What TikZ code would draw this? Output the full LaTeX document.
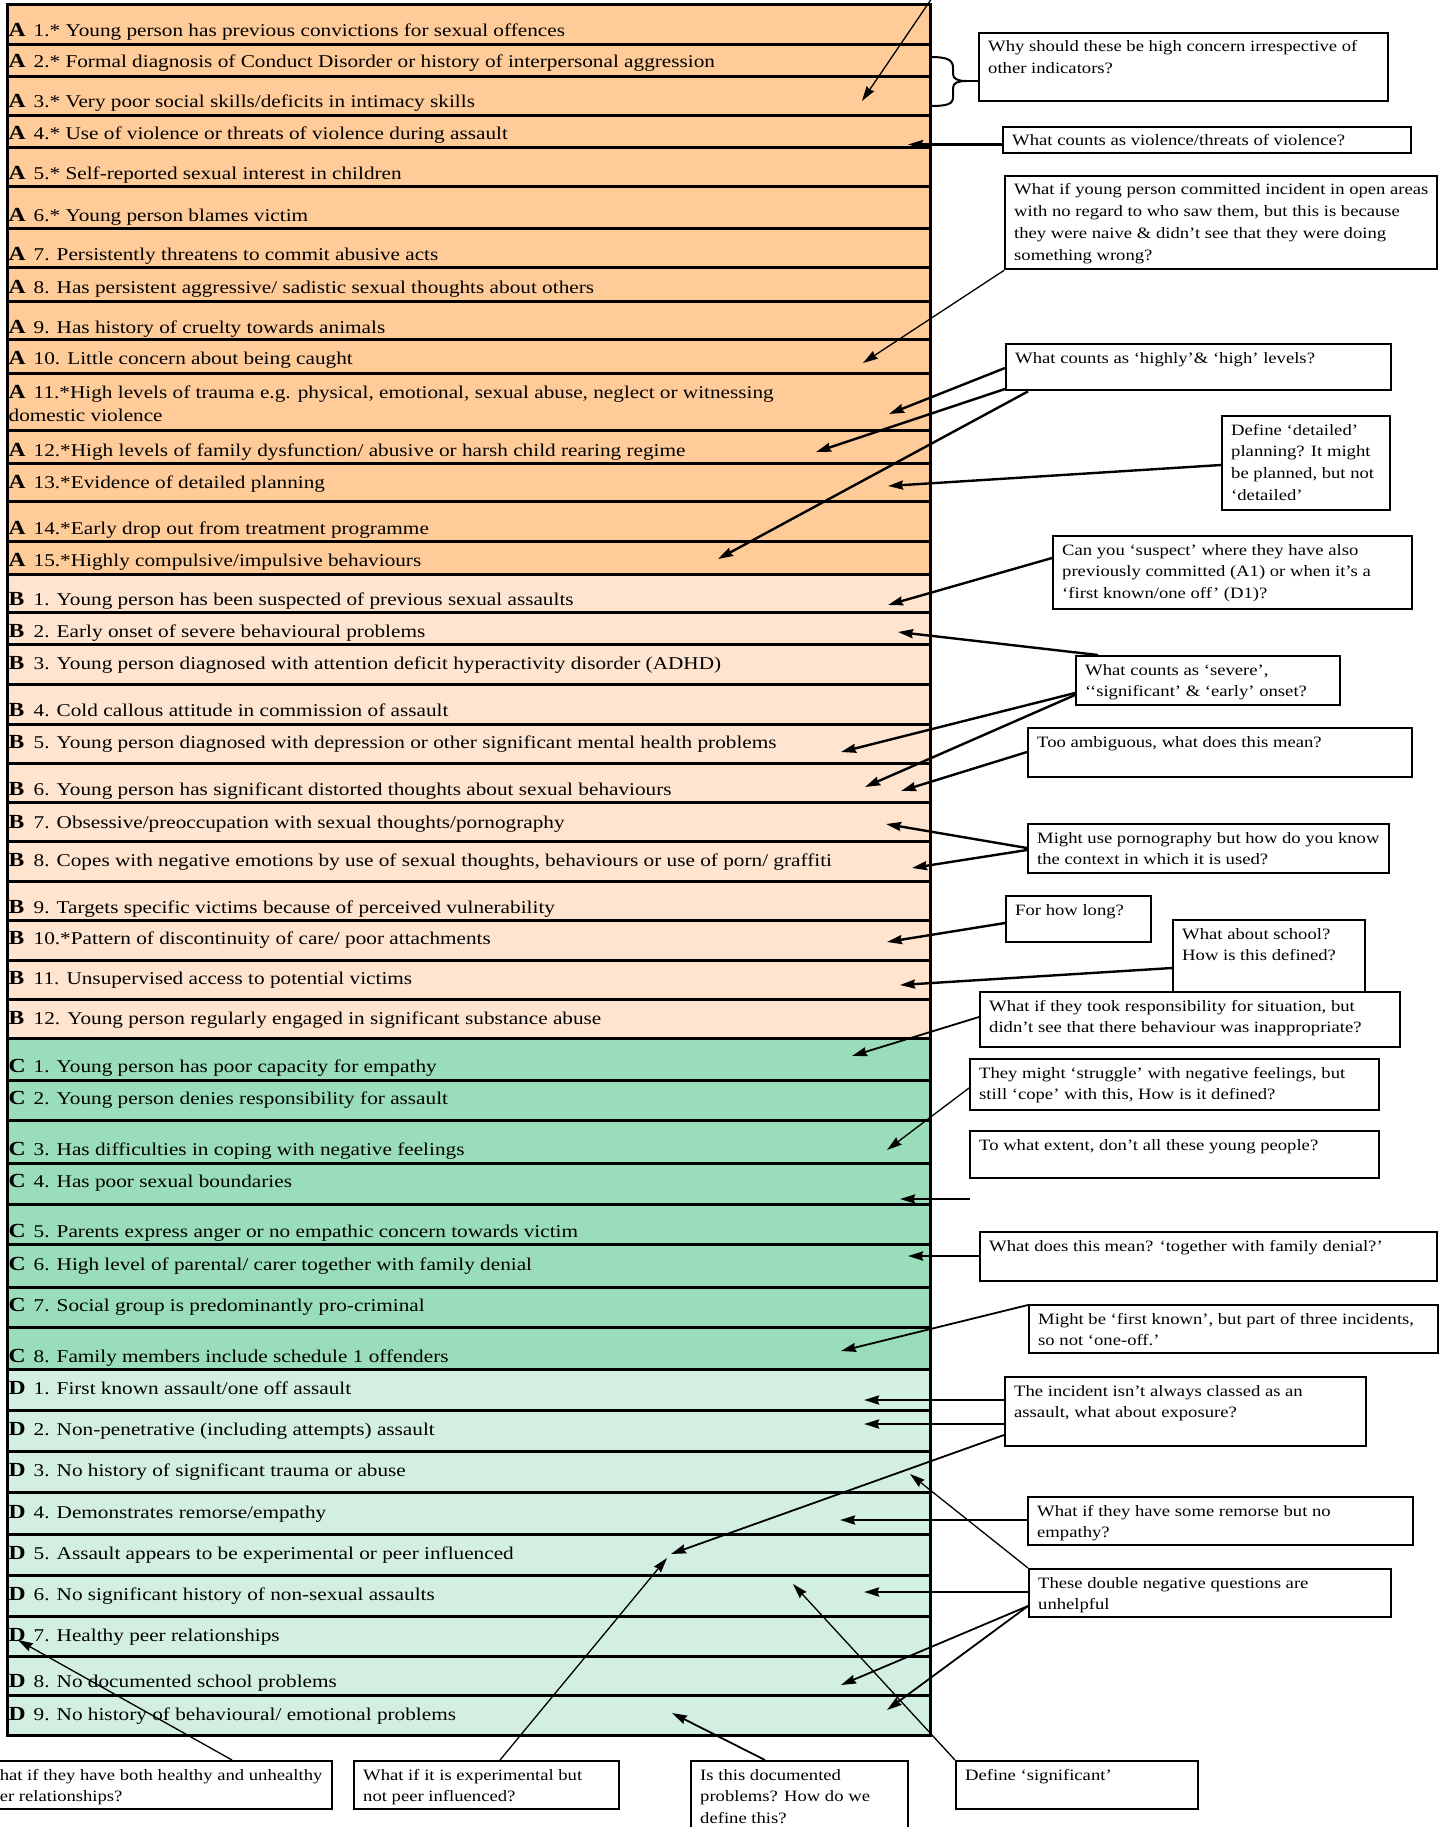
\documentclass[tikz,border=0pt]{standalone}
\usepackage{fontspec}
\setmainfont{Liberation Serif}[FakeStretch=1.18]
\usetikzlibrary{arrows.meta}

\definecolor{rowA}{HTML}{FFCC99}
\definecolor{rowB}{HTML}{FFE5CF}
\definecolor{rowC}{HTML}{99DDBA}
\definecolor{rowD}{HTML}{D3EFE1}

\newcommand\rowfont{\fontsize{18}{23.5}\selectfont}
\newcommand\cmtfont{\fontsize{15.8}{21.7}\selectfont}
\newcommand\rl[1]{\makebox[25pt][l]{\fontsize{20}{20}\selectfont\bfseries #1}}

\begin{document}
\begin{tikzpicture}[x=1pt,y=-1pt,
  rowtxt/.style={anchor=base west, inner sep=0pt, font=\rowfont},
  cframe/.style={draw, line width=2.4pt, fill=white, anchor=north west, inner sep=0pt},
  ctxt/.style={anchor=base west, inner sep=0pt, font=\cmtfont},
  sepline/.style={line width=3pt},
  arr/.style={line width=2.4pt, -{Stealth[length=15pt,width=9pt,inset=1.5pt]}},
  arrmed/.style={line width=1.8pt, -{Stealth[length=15pt,width=9pt,inset=1.5pt]}},
  arrthin/.style={line width=1.3pt, -{Stealth[length=15pt,width=9pt,inset=1.5pt]}}]

\clip (0,0) rectangle (1446,1827);
\fill[white] (0,0) rectangle (1446,1827);

% coloured bands of the checklist
\fill[rowA] (7,5) rectangle (930,574);
\fill[rowB] (7,574) rectangle (930,1038.7);
\fill[rowC] (7,1038.7) rectangle (930,1369);
\fill[rowD] (7,1369) rectangle (930,1735);

% checklist items
\node[rowtxt] (A1) at (8.5,37) {\rl{A}1.* Young person has previous convictions for sexual offences};
\node[rowtxt] (A2) at (8.5,68) {\rl{A}2.* Formal diagnosis of Conduct Disorder or history of interpersonal aggression};
\node[rowtxt] (A3) at (8.5,108) {\rl{A}3.* Very poor social skills/deficits in intimacy skills};
\node[rowtxt] (A4) at (8.5,140) {\rl{A}4.* Use of violence or threats of violence during assault};
\node[rowtxt] (A5) at (8.5,180) {\rl{A}5.* Self-reported sexual interest in children};
\node[rowtxt] (A6) at (8.5,222) {\rl{A}6.* Young person blames victim};
\node[rowtxt] (A7) at (8.5,261) {\rl{A}7. Persistently threatens to commit abusive acts};
\node[rowtxt] (A8) at (8.5,293) {\rl{A}8. Has persistent aggressive/ sadistic sexual thoughts about others};
\node[rowtxt] (A9) at (8.5,333) {\rl{A}9. Has history of cruelty towards animals};
\node[rowtxt] (A10) at (8.5,364) {\rl{A}10. Little concern about being caught};
\node[rowtxt] (A11) at (8.5,398) {\parbox[t]{900pt}{\rl{A}11.*High levels of trauma e.g. physical, emotional, sexual abuse, neglect or witnessing\\domestic violence}};
\node[rowtxt] (A12) at (8.5,456) {\rl{A}12.*High levels of family dysfunction/ abusive or harsh child rearing regime};
\node[rowtxt] (A13) at (8.5,488) {\rl{A}13.*Evidence of detailed planning};
\node[rowtxt] (A14) at (8.5,534) {\rl{A}14.*Early drop out from treatment programme};
\node[rowtxt] (A15) at (8.5,566) {\rl{A}15.*Highly compulsive/impulsive behaviours};
\node[rowtxt] (B1) at (8.5,605) {\rl{B}1. Young person has been suspected of previous sexual assaults};
\node[rowtxt] (B2) at (8.5,637) {\rl{B}2. Early onset of severe behavioural problems};
\node[rowtxt] (B3) at (8.5,669) {\rl{B}3. Young person diagnosed with attention deficit hyperactivity disorder (ADHD)};
\node[rowtxt] (B4) at (8.5,716) {\rl{B}4. Cold callous attitude in commission of assault};
\node[rowtxt] (B5) at (8.5,748) {\rl{B}5. Young person diagnosed with depression or other significant mental health problems};
\node[rowtxt] (B6) at (8.5,795) {\rl{B}6. Young person has significant distorted thoughts about sexual behaviours};
\node[rowtxt] (B7) at (8.5,828) {\rl{B}7. Obsessive/preoccupation with sexual thoughts/pornography};
\node[rowtxt] (B8) at (8.5,866) {\rl{B}8. Copes with negative emotions by use of sexual thoughts, behaviours or use of porn/ graffiti};
\node[rowtxt] (B9) at (8.5,913) {\rl{B}9. Targets specific victims because of perceived vulnerability};
\node[rowtxt] (B10) at (8.5,944) {\rl{B}10.*Pattern of discontinuity of care/ poor attachments};
\node[rowtxt] (B11) at (8.5,984) {\rl{B}11. Unsupervised access to potential victims};
\node[rowtxt] (B12) at (8.5,1024) {\rl{B}12. Young person regularly engaged in significant substance abuse};
\node[rowtxt] (C1) at (8.5,1072) {\rl{C}1. Young person has poor capacity for empathy};
\node[rowtxt] (C2) at (8.5,1104) {\rl{C}2. Young person denies responsibility for assault};
\node[rowtxt] (C3) at (8.5,1155) {\rl{C}3. Has difficulties in coping with negative feelings};
\node[rowtxt] (C4) at (8.5,1187) {\rl{C}4. Has poor sexual boundaries};
\node[rowtxt] (C5) at (8.5,1237) {\rl{C}5. Parents express anger or no empathic concern towards victim};
\node[rowtxt] (C6) at (8.5,1270) {\rl{C}6. High level of parental/ carer together with family denial};
\node[rowtxt] (C7) at (8.5,1311) {\rl{C}7. Social group is predominantly pro-criminal};
\node[rowtxt] (C8) at (8.5,1362) {\rl{C}8. Family members include schedule 1 offenders};
\node[rowtxt] (D1) at (8.5,1394) {\rl{D}1. First known assault/one off assault};
\node[rowtxt] (D2) at (8.5,1435) {\rl{D}2. Non-penetrative (including attempts) assault};
\node[rowtxt] (D3) at (8.5,1476) {\rl{D}3. No history of significant trauma or abuse};
\node[rowtxt] (D4) at (8.5,1518) {\rl{D}4. Demonstrates remorse/empathy};
\node[rowtxt] (D5) at (8.5,1559) {\rl{D}5. Assault appears to be experimental or peer influenced};
\node[rowtxt] (D6) at (8.5,1600) {\rl{D}6. No significant history of non-sexual assaults};
\node[rowtxt] (D7) at (8.5,1641) {\rl{D}7. Healthy peer relationships};
\node[rowtxt] (D8) at (8.5,1687) {\rl{D}8. No documented school problems};
\node[rowtxt] (D9) at (8.5,1720) {\rl{D}9. No history of behavioural/ emotional problems};

% rules between items and outer frame
\foreach \y in {44.7,77,115.7,147.3,187,229,267.7,301,339.7,373.3,430.7,463,501.7,541.3,574,
  612.7,644.7,684,724,763,802,841.3,881,920,960,999,1038.7,
  1080,1120.7,1163,1204,1244.7,1287,1327.7,1369,
  1410.7,1451.7,1492.7,1534.3,1575.7,1616.7,1656.7,1695.7}
  \draw[sepline] (7,\y) -- (930,\y);
\draw[sepline] (7,5) rectangle (930,1735);

% comment boxes
\node[cframe, minimum width=409pt, minimum height=68pt] (b1) at (978,32) {};
\node[cframe, minimum width=408pt, minimum height=26pt] (b2) at (1002,126) {};
\node[cframe, minimum width=432pt, minimum height=93pt] (b3) at (1004,175) {};
\node[cframe, minimum width=385pt, minimum height=46pt] (b4) at (1005,343) {};
\node[cframe, minimum width=168pt, minimum height=94pt] (b5) at (1221,415) {};
\node[cframe, minimum width=359pt, minimum height=73pt] (b6) at (1052,535) {};
\node[cframe, minimum width=264pt, minimum height=49pt] (b7) at (1075,655) {};
\node[cframe, minimum width=384pt, minimum height=49pt] (b8) at (1027,727) {};
\node[cframe, minimum width=361pt, minimum height=49pt] (b9) at (1027,823) {};
\node[cframe, minimum width=145pt, minimum height=46pt] (b10) at (1005,895) {};
\node[cframe, minimum width=192pt, minimum height=72pt] (b11) at (1172,919) {};
\node[cframe, minimum width=420pt, minimum height=55pt] (b12) at (979,991) {};
\node[cframe, minimum width=409pt, minimum height=51pt] (b13) at (969,1058) {};
\node[cframe, minimum width=409pt, minimum height=47pt] (b14) at (969,1130) {};
\node[cframe, minimum width=457pt, minimum height=49pt] (b15) at (979,1231) {};
\node[cframe, minimum width=409pt, minimum height=48pt] (b16) at (1028,1304) {};
\node[cframe, minimum width=361pt, minimum height=69pt] (b17) at (1004,1376) {};
\node[cframe, minimum width=385pt, minimum height=48pt] (b18) at (1027,1496) {};
\node[cframe, minimum width=362pt, minimum height=48pt] (b19) at (1028,1568) {};
\node[cframe, minimum width=359pt, minimum height=48pt] (b20) at (-28,1760) {};
\node[cframe, minimum width=265pt, minimum height=48pt] (b21) at (353,1760) {};
\node[cframe, minimum width=217pt, minimum height=80pt] (b22) at (690,1760) {};
\node[cframe, minimum width=242pt, minimum height=48pt] (b23) at (955,1760) {};

% comment texts
\newcommand\ctext[2]{\node[ctxt] (#1t) at ([xshift=10pt,yshift=-20pt]#1.north west) {\parbox[t]{600pt}{#2}};}
\ctext{b1}{Why should these be high concern irrespective of\\other indicators?}
\ctext{b2}{What counts as violence/threats of violence?}
\ctext{b3}{What if young person committed incident in open areas\\with no regard to who saw them, but this is because\\they were naive \& didn’t see that they were doing\\something wrong?}
\ctext{b4}{What counts as ‘highly’\& ‘high’ levels?}
\ctext{b5}{Define ‘detailed’\\planning? It might\\be planned, but not\\‘detailed’}
\ctext{b6}{Can you ‘suspect’ where they have also\\previously committed (A1) or when it’s a\\‘first known/one off’ (D1)?}
\ctext{b7}{What counts as ‘severe’,\\‘‘significant’ \& ‘early’ onset?}
\ctext{b8}{Too ambiguous, what does this mean?}
\ctext{b9}{Might use pornography but how do you know\\the context in which it is used?}
\ctext{b10}{For how long?}
\ctext{b11}{What about school?\\How is this defined?}
\ctext{b12}{What if they took responsibility for situation, but\\didn’t see that there behaviour was inappropriate?}
\ctext{b13}{They might ‘struggle’ with negative feelings, but\\still ‘cope’ with this, How is it defined?}
\ctext{b14}{To what extent, don’t all these young people?}
\ctext{b15}{What does this mean? ‘together with family denial?’}
\ctext{b16}{Might be ‘first known’, but part of three incidents,\\so not ‘one-off.’}
\ctext{b17}{The incident isn’t always classed as an\\assault, what about exposure?}
\ctext{b18}{What if they have some remorse but no\\empathy?}
\ctext{b19}{These double negative questions are\\unhelpful}
\ctext{b20}{What if they have both healthy and unhealthy\\peer relationships?}
\ctext{b21}{What if it is experimental but\\not peer influenced?}
\ctext{b22}{Is this documented\\problems? How do we\\define this?}
\ctext{b23}{Define ‘significant’}

% brace grouping items A1 to A3
\coordinate (bracetip) at (966,81);
\draw[line width=2pt] (930,57) .. controls (948,57) and (953,60) .. (953,68) -- (953,74)
  .. controls (953,79) and (958,81) .. (bracetip)
  .. controls (958,81) and (953,83) .. (953,88) -- (953,97)
  .. controls (953,104) and (948,106) .. (930,106);
\draw[line width=2.4pt] (bracetip) -- ([yshift=-49pt]b1.north west);

% arrow targets inside the checklist
\coordinate (topend) at (932,-2);
\coordinate (tA3) at (862,101);
\coordinate (tA4) at (908,144.5);
\coordinate (tA10) at (863,363);
\coordinate (tA11) at (889,414);
\coordinate (tA12) at (816,452);
\coordinate (tA13) at (888,486);
\coordinate (tA15) at (718,559);
\coordinate (tB1) at (888,605);
\coordinate (tB2) at (898,632);
\coordinate (tB5) at (841,752);
\coordinate (tB6a) at (865,787);
\coordinate (tB6b) at (901,791);
\coordinate (tB7) at (886,824);
\coordinate (tB8) at (912,868);
\coordinate (tB10) at (887,942);
\coordinate (tB11) at (900,985);
\coordinate (tC1) at (852,1056);
\coordinate (tC3) at (887,1150);
\coordinate (c14) at (970,1199);
\coordinate (tC4) at (900,1199);
\coordinate (tC6) at (908,1256);
\coordinate (tC8) at (841,1351);
\coordinate (tD1) at (864,1400);
\coordinate (tD2) at (864,1424);
\coordinate (tD3) at (910,1474);
\coordinate (tD4) at (840,1520);
\coordinate (tD5a) at (671,1554);
\coordinate (tD5b) at (667,1558);
\coordinate (tD6a) at (864,1592);
\coordinate (tD6b) at (793,1584);
\coordinate (tD7) at (18,1640);
\coordinate (tD8) at (841,1685);
\coordinate (tD9a) at (887,1710);
\coordinate (tD9b) at (672,1713);

% connectors
\draw[arrthin] (topend) -- (tA3);
\draw[arr] ([yshift=-18.5pt]b2.north west) -- (tA4);
\draw[arrthin] (b3.south west) -- (tA10);
\draw[arr] ([yshift=-25pt]b4.north west) -- (tA11);
\draw[arr] ([yshift=-46pt]b4.north west) -- (tA12);
\draw[arr] ([xshift=23pt]b4.south west) -- (tA15);
\draw[arr] ([yshift=-50pt]b5.north west) -- (tA13);
\draw[arr] ([yshift=-23pt]b6.north west) -- (tB1);
\draw[arr] ([xshift=23pt]b7.north west) -- (tB2);
\draw[arr] ([yshift=-38pt]b7.north west) -- (tB5);
\draw[arr] ([yshift=-40pt]b7.north west) -- (tB6a);
\draw[arr] ([yshift=-25pt]b8.north west) -- (tB6b);
\draw[arr] ([yshift=-25pt]b9.north west) -- (tB7);
\draw[arr] ([yshift=-27pt]b9.north west) -- (tB8);
\draw[arr] ([yshift=-28pt]b10.north west) -- (tB10);
\draw[arr] ([yshift=-49pt]b11.north west) -- (tB11);
\draw[arrmed] ([yshift=-26pt]b12.north west) -- (tC1);
\draw[arrthin] ([yshift=-30pt]b13.north west) -- (tC3);
\draw[arr] (c14) -- (tC4);
\draw[arr] ([yshift=-25pt]b15.north west) -- (tC6);
\draw[arrmed] ([yshift=-1pt]b16.north west) -- (tC8);
\draw[arr] ([yshift=-24pt]b17.north west) -- (tD1);
\draw[arr] ([yshift=-48pt]b17.north west) -- (tD2);
\draw[arrmed] ([yshift=-59pt]b17.north west) -- (tD5a);
\draw[arr] ([yshift=-24pt]b18.north west) -- (tD4);
\draw[arr] ([yshift=-24pt]b19.north west) -- (tD6a);
\draw[arrmed] ([yshift=-38pt]b19.north west) -- (tD8);
\draw[arrmed] ([yshift=-38pt]b19.north west) -- (tD9a);
\draw[arrthin] (b19.north west) -- (tD3);
\draw[arrthin] ([xshift=260pt]b20.north west) -- (tD7);
\draw[arrthin] ([xshift=147pt]b21.north west) -- (tD5b);
\draw[arrmed] ([xshift=75pt]b22.north west) -- (tD9b);
\draw[arrthin] (b23.north west) -- (tD6b);

\end{tikzpicture}
\end{document}
